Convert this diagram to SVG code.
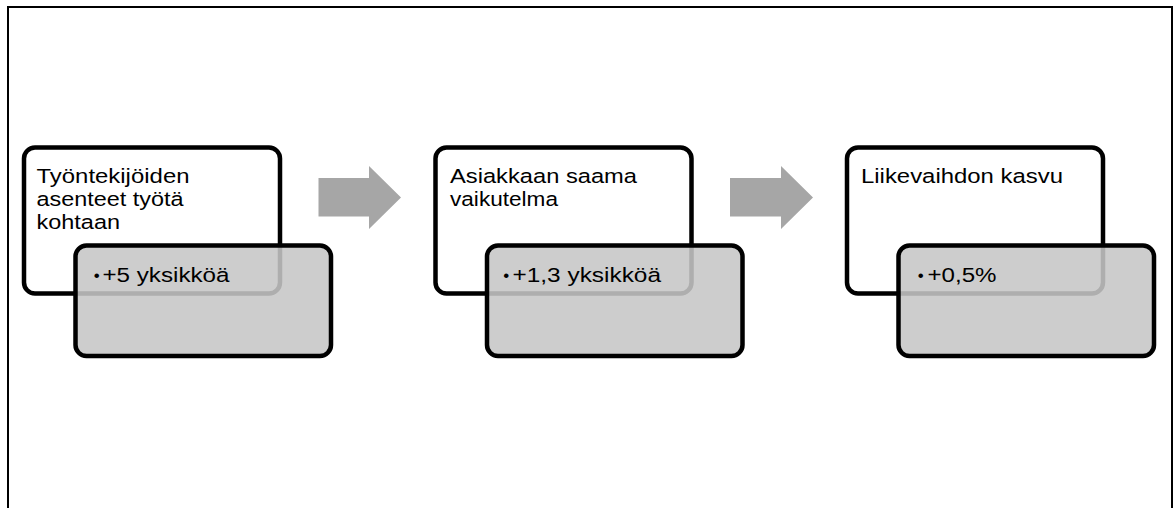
<svg xmlns="http://www.w3.org/2000/svg" width="1173" height="508" viewBox="0 0 1173 508">
<style>
.bg{fill:#ffffff}
.frame{fill:none;stroke:#000;stroke-width:2}
.top{fill:#ffffff;stroke:#000;stroke-width:4.5}
.sub{fill:#c6c6c6;fill-opacity:0.88;stroke:#000;stroke-width:4.5}
.t{font-family:"Liberation Sans",Arial,sans-serif;font-size:20.5px;fill:#000}
.b{font-family:"Liberation Sans",Arial,sans-serif;font-size:17px;fill:#000}
.arrow{fill:#a6a6a6}
</style>
<rect class="bg" x="0" y="0" width="1173" height="508"/>
<rect class="frame" x="8" y="7" width="1164" height="530"/>
<g id="connectors">
<polygon class="arrow" points="318.5,178 369,178 369,166 401,197.5 369,229 369,216.5 318.5,216.5"/>
<polygon class="arrow" points="730,178 781,178 781,166 813,197.5 781,229 781,216.5 730,216.5"/>
</g>
<g id="node1">
<rect class="top" x="24" y="147.5" width="256" height="146" rx="11"/>
<text class="t" x="36.5" y="183" textLength="153" lengthAdjust="spacingAndGlyphs">Työntekijöiden</text>
<text class="t" x="36.5" y="206" textLength="147" lengthAdjust="spacingAndGlyphs">asenteet työtä</text>
<text class="t" x="36.5" y="229" textLength="83.5" lengthAdjust="spacingAndGlyphs">kohtaan</text>
<rect class="sub" x="75.5" y="245.5" width="255.5" height="110.5" rx="11"/>
<text class="b" x="93.8" y="281">•</text>
<text class="t" x="102.5" y="282" textLength="127" lengthAdjust="spacingAndGlyphs">+5 yksikköä</text>
</g>
<g id="node2">
<rect class="top" x="435.5" y="147.5" width="256" height="146" rx="11"/>
<text class="t" x="450" y="183" textLength="187" lengthAdjust="spacingAndGlyphs">Asiakkaan saama</text>
<text class="t" x="450" y="206" textLength="108" lengthAdjust="spacingAndGlyphs">vaikutelma</text>
<rect class="sub" x="487" y="245.5" width="255.5" height="110.5" rx="11"/>
<text class="b" x="503.2" y="281">•</text>
<text class="t" x="512.5" y="282" textLength="148.5" lengthAdjust="spacingAndGlyphs">+1,3 yksikköä</text>
</g>
<g id="node3">
<rect class="top" x="847" y="147.5" width="256" height="146" rx="11"/>
<text class="t" x="861" y="183" textLength="202" lengthAdjust="spacingAndGlyphs">Liikevaihdon kasvu</text>
<rect class="sub" x="898.5" y="245.5" width="255.5" height="110.5" rx="11"/>
<text class="b" x="917.8" y="281">•</text>
<text class="t" x="927.5" y="282" textLength="69" lengthAdjust="spacingAndGlyphs">+0,5%</text>
</g>
</svg>
